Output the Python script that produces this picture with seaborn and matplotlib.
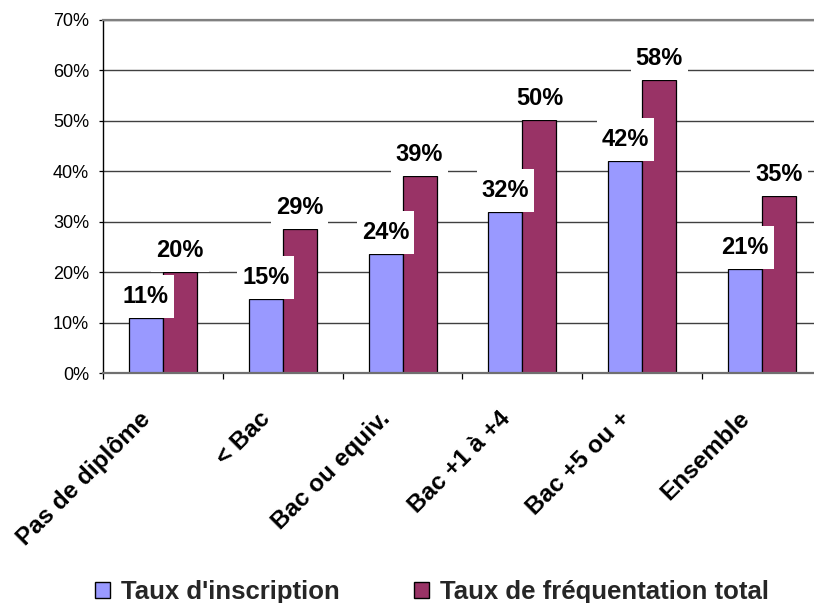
import matplotlib
matplotlib.use("Agg")
import matplotlib.pyplot as plt
from matplotlib.path import Path
from matplotlib.patches import Patch
from matplotlib.transforms import ScaledTranslation
from matplotlib import font_manager
import seaborn as sns
import pandas as pd

# --- data -------------------------------------------------------------
categories = ["Pas de diplôme", "< Bac", "Bac ou equiv.", "Bac +1 à +4",
              "Bac +5 ou +", "Ensemble"]
series_names = ["Taux d'inscription", "Taux de fréquentation total"]
inscription = [11.0, 14.6, 23.6, 31.9, 42.1, 20.6]
frequentation = [20.0, 28.6, 39.1, 50.1, 58.1, 35.1]
y_ticks = [0, 10, 20, 30, 40, 50, 60, 70]
y_tick_labels = ["0%", "10%", "20%", "30%", "40%", "50%", "60%", "70%"]

colors = {series_names[0]: "#9999FF", series_names[1]: "#993366"}

df = pd.DataFrame({
    "categorie": categories * 2,
    "serie": [series_names[0]] * len(categories) + [series_names[1]] * len(categories),
    "valeur": inscription + frequentation,
})

# --- fonts ------------------------------------------------------------
sns.set_theme(style="white")
plt.rcParams["font.family"] = ["Liberation Sans", "DejaVu Sans"]
available = {f.name for f in font_manager.fontManager.ttflist}
label_family = ["Liberation Sans Narrow", "Liberation Sans"] \
    if "Liberation Sans Narrow" in available else ["Liberation Sans"]

DPI = 100
fig = plt.figure(figsize=(8.14, 6.03), dpi=DPI)
ax = fig.add_axes([103 / 814, 1 - 373 / 603, 719 / 814, 353 / 603])

sns.barplot(data=df, x="categorie", y="valeur", hue="serie",
            order=categories, hue_order=series_names, palette=colors,
            saturation=1, width=0.567, edgecolor="black", linewidth=0.9,
            legend=False, ax=ax, zorder=2)

ax.set_xlim(-0.5, len(categories) - 0.5)
ax.set_ylim(0, 70)
ax.set_xlabel("")
ax.set_ylabel("")

# horizontal gridlines
ax.set_axisbelow(True)
ax.yaxis.grid(True, color="#404040", linewidth=1.0)
ax.xaxis.grid(False)

# frame
ax.spines["right"].set_visible(False)
ax.spines["top"].set_color("#808080")
ax.spines["top"].set_linewidth(1.6)
ax.spines["bottom"].set_color("#707070")
ax.spines["bottom"].set_linewidth(1.6)
ax.spines["left"].set_color("black")
ax.spines["left"].set_linewidth(1.0)

# y axis
ax.set_yticks(y_ticks)
ax.set_yticklabels(y_tick_labels, fontsize=13, color="black")
ax.tick_params(axis="y", direction="out", length=3, width=0.9,
               color="black", pad=7, left=True)

# x axis: tick marks at category boundaries, rotated bold labels
ax.set_xticks(range(len(categories)))
ax.set_xticklabels(categories, rotation=45, ha="right", va="top",
                   rotation_mode="anchor", fontsize=17.5, fontweight="bold",
                   color="black")
ax.tick_params(axis="x", which="major", length=0, pad=0, bottom=True)
ax.set_xticks([i - 0.5 for i in range(len(categories) + 1)], minor=True)
ax.tick_params(axis="x", which="minor", direction="out", length=4,
               width=0.9, color="black", bottom=True)
shift = ScaledTranslation(-24 / DPI, -34 / DPI, fig.dpi_scale_trans)
for lab in ax.get_xticklabels():
    lab.set_transform(lab.get_transform() + shift)


# white background behind value labels: 5 px sideways, 10 px vertically
def label_box(x0, y0, width, height, mutation_size):
    padx, pady = 5.0, 10.0
    xa, xb = x0 - padx, x0 + width + padx
    ya, yb = y0 - pady, y0 + height + pady
    return Path([(xa, ya), (xb, ya), (xb, yb), (xa, yb), (xa, ya)],
                closed=True)


for container in ax.containers:
    for bar in container:
        value = bar.get_height()
        xc = bar.get_x() + bar.get_width() / 2
        ax.annotate(f"{value:.0f}%", xy=(xc, value), xytext=(0, 10),
                    textcoords="offset pixels", ha="center", va="bottom",
                    fontsize=17, fontweight="bold", family=label_family,
                    color="black", zorder=5,
                    bbox=dict(boxstyle=label_box, fc="white", ec="none"))

# legend
handles = [Patch(facecolor=colors[s], edgecolor="black", linewidth=1.0)
           for s in series_names]
fig.legend(handles, series_names, loc="lower center",
           bbox_to_anchor=(0.531, -0.002), ncol=2, frameon=False,
           prop=dict(family="Liberation Sans", weight="bold", size=18.5),
           handlelength=0.56, handleheight=0.56, handletextpad=0.45,
           columnspacing=2.9, borderpad=0, borderaxespad=0)

fig.savefig("out.png", dpi=DPI)
